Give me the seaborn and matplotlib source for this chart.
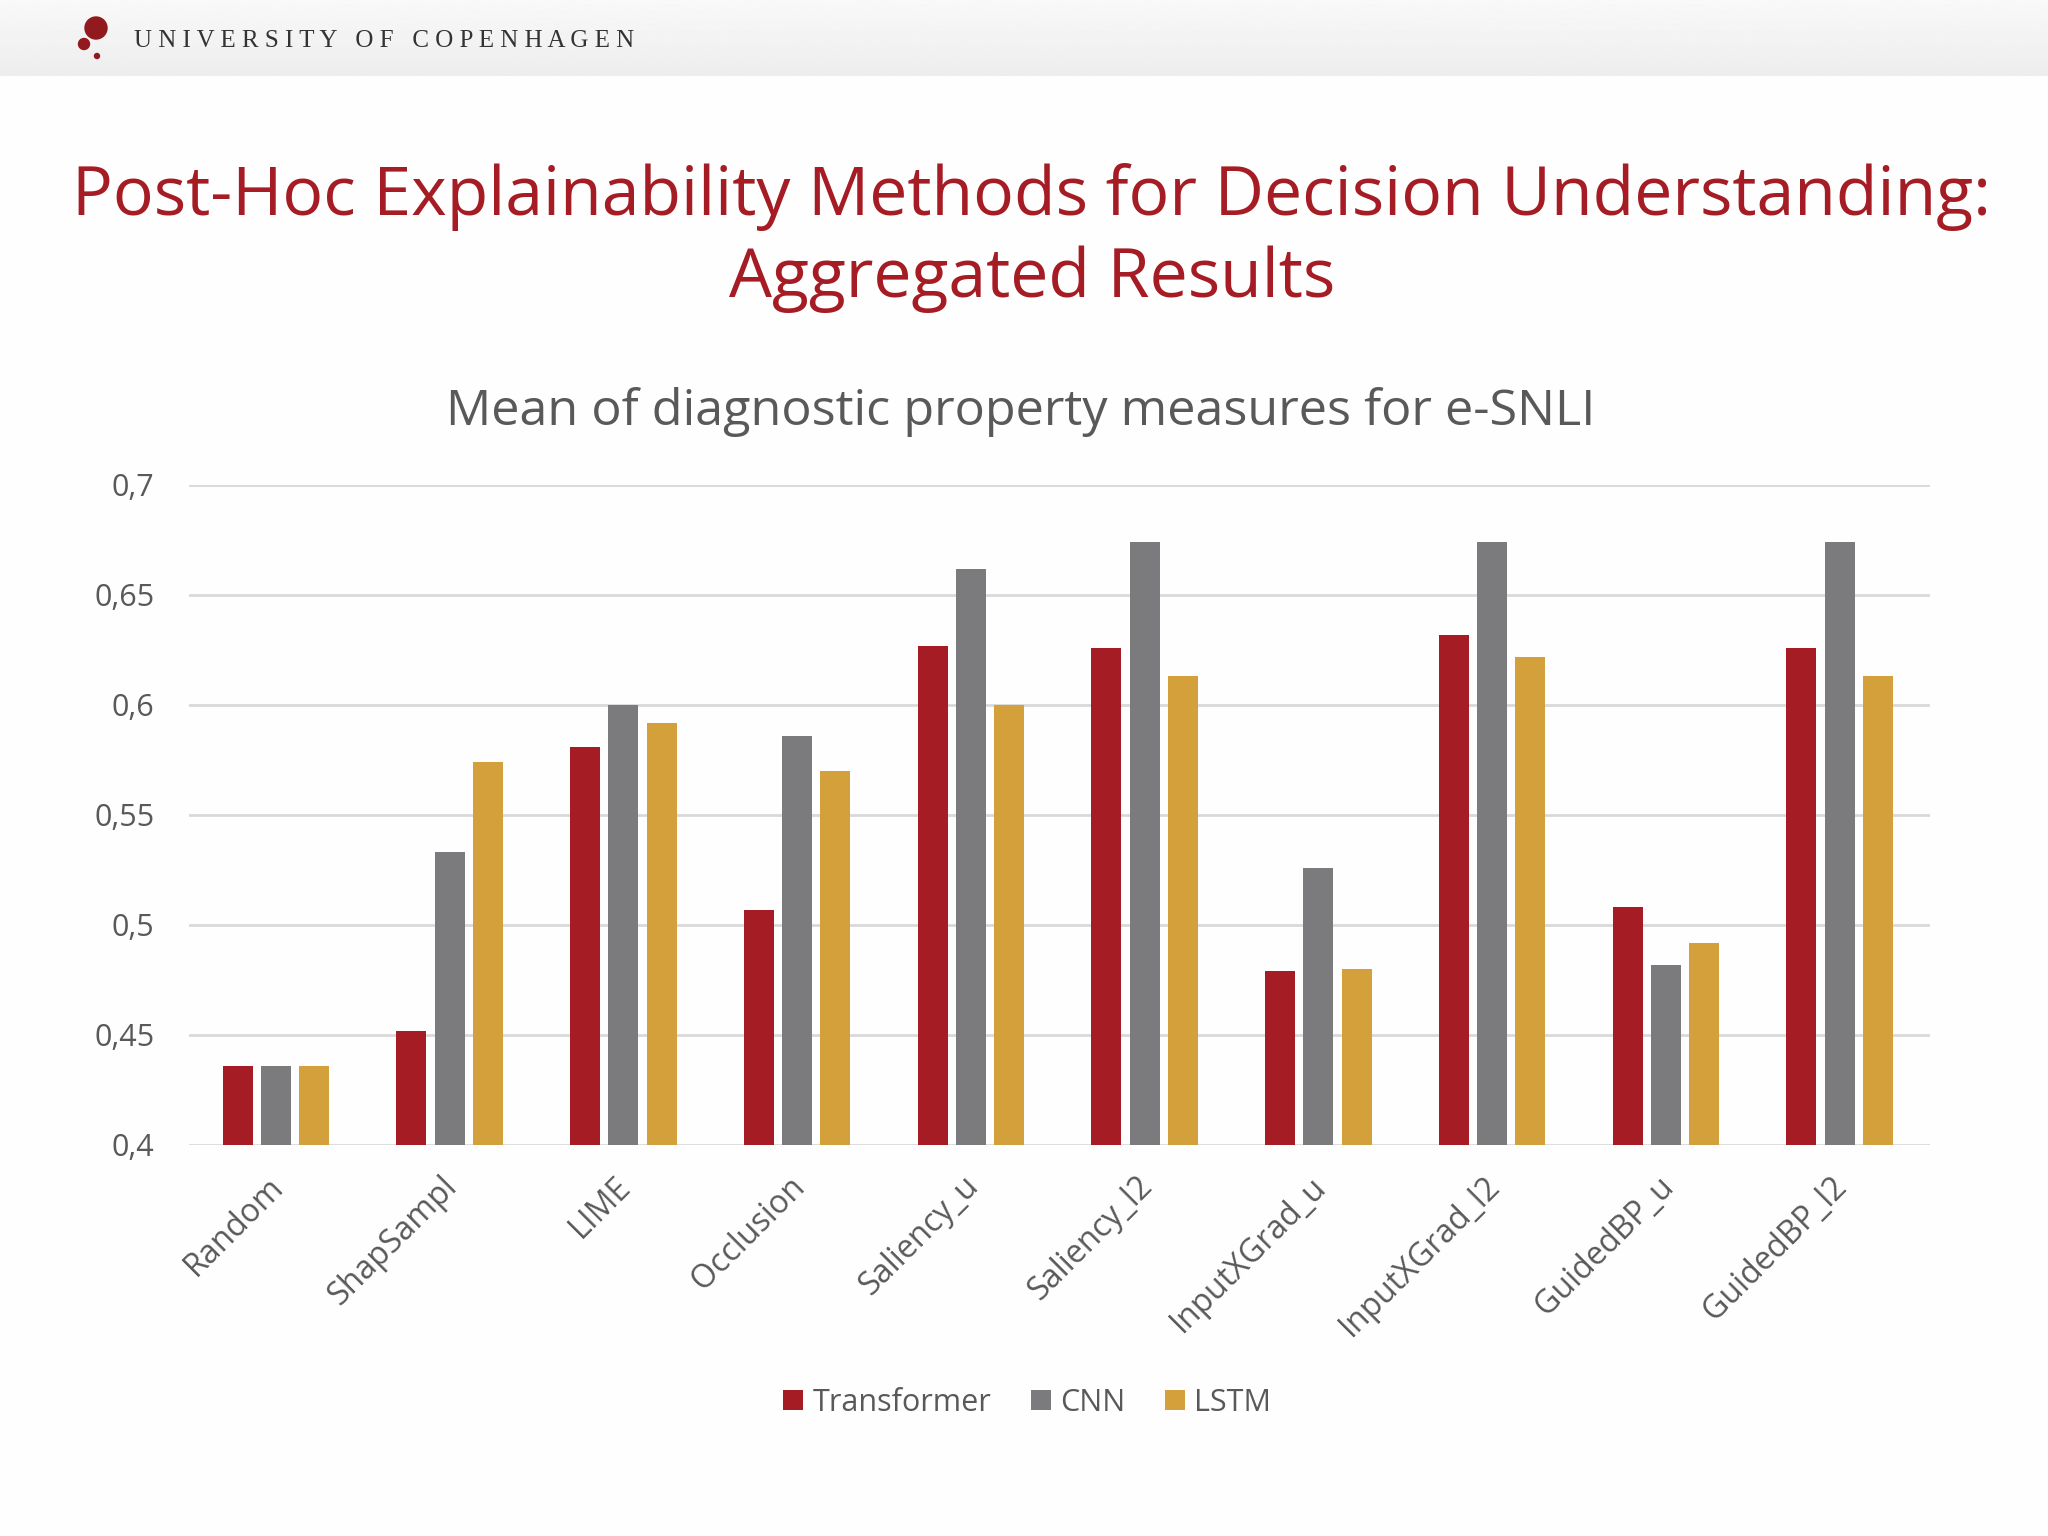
import matplotlib
matplotlib.use("Agg")
import matplotlib.pyplot as plt
import seaborn as sns
import pandas as pd
import numpy as np
from matplotlib.patches import Ellipse
from matplotlib.transforms import ScaledTranslation

# ---------------- data ----------------
methods = ["Random", "ShapSampl", "LIME", "Occlusion", "Saliency_u", "Saliency_l2",
           "InputXGrad_u", "InputXGrad_l2", "GuidedBP_u", "GuidedBP_l2"]
transformer = [0.436, 0.452, 0.581, 0.507, 0.627, 0.626, 0.479, 0.632, 0.508, 0.626]
cnn = [0.436, 0.533, 0.600, 0.586, 0.662, 0.674, 0.526, 0.674, 0.482, 0.674]
lstm = [0.436, 0.574, 0.592, 0.570, 0.600, 0.613, 0.480, 0.622, 0.492, 0.613]
models = ["Transformer", "CNN", "LSTM"]
colors = ["#a51c24", "#7b7a7c", "#d4a03b"]
yticks = [0.4, 0.45, 0.5, 0.55, 0.6, 0.65, 0.7]
ytick_labels = ["0,4", "0,45", "0,5", "0,55", "0,6", "0,65", "0,7"]

title_line1 = "Post-Hoc Explainability Methods for Decision Understanding:"
title_line2 = "Aggregated Results"
subtitle = "Mean of diagnostic property measures for e-SNLI"
header_text = "U N I V E R S I T Y   O F   C O P E N H A G E N"

df = pd.DataFrame({
    "Method": methods * 3,
    "Model": [m for m in models for _ in methods],
    "Value": transformer + cnn + lstm,
})

# ---------------- style ----------------
sns.set_style("white")
plt.rcParams["font.family"] = ["Open Sans", "DejaVu Sans"]
TXT = "#595959"
RED = "#a51c24"

W, H = 2048, 1536
fig = plt.figure(figsize=(W / 100, H / 100), dpi=100)
fig.patch.set_facecolor("#fefefe")

# header band (gradient)
hax = fig.add_axes([0, 1 - 76 / H, 1, 76 / H])
grad = np.linspace(0.975, 0.93, 64).reshape(-1, 1)
hax.imshow(np.repeat(grad, 2, axis=1), cmap="gray", vmin=0, vmax=1, aspect="auto",
           extent=[0, 1, 0, 1])
hax.set_axis_off()

# logo dots
for (cx, cy, r) in [(96, 28, 11), (84, 44, 5.5), (97, 56, 2.5)]:
    fig.add_artist(Ellipse((cx / W, 1 - cy / H), 2 * r / W, 2 * r / H,
                           transform=fig.transFigure, color="#901a1e", zorder=5))
fig.text(134 / W, 1 - 41 / H, header_text, family=["Liberation Serif", "DejaVu Serif"],
         fontsize=18, color="#333333", ha="left", va="center")

# titles
fig.text(1032 / W, 1 - 197 / H, title_line1, fontsize=49, color=RED, ha="center", va="center")
fig.text(1032 / W, 1 - 279 / H, title_line2, fontsize=49, color=RED, ha="center", va="center")
fig.text(1021 / W, 1 - 412 / H, subtitle, fontsize=36.3, color=TXT, ha="center", va="center")

# main axes
ax = fig.add_axes([189 / W, 1 - 1145 / H, (1930 - 189) / W, (1145 - 485) / H])
ax.set_facecolor("none")
sns.barplot(data=df, x="Method", y="Value", hue="Model", palette=colors, width=0.66,
            ax=ax, linewidth=0, saturation=1)

bw = 0.173
for cont in ax.containers:
    for bar in cont:
        c = bar.get_x() + bar.get_width() / 2
        bar.set_width(bw)
        bar.set_x(c - bw / 2)
        bar.set_zorder(3)

handles, labels = ax.get_legend_handles_labels()
if ax.get_legend() is not None:
    ax.get_legend().remove()

ax.set_ylim(0.4, 0.7)
ax.set_xlim(-0.5, 9.52)
ax.set_yticks(yticks)
ax.set_yticklabels(ytick_labels)
ax.set_xlabel("")
ax.set_ylabel("")
ax.grid(axis="y", color="#d9d9d9", linewidth=2, zorder=0)
ax.set_axisbelow(True)
for s in ax.spines.values():
    s.set_visible(False)
ax.tick_params(axis="both", length=0, labelsize=22, labelcolor=TXT)
ax.tick_params(axis="x", labelsize=23, pad=18)
ax.tick_params(axis="y", pad=25)
plt.setp(ax.get_xticklabels(), rotation=45, ha="right", rotation_mode="anchor")
offset = ScaledTranslation(-9 / 100, 0, fig.dpi_scale_trans)
for lab in ax.get_xticklabels():
    lab.set_transform(lab.get_transform() + offset)

leg = fig.legend(handles, labels, loc="center", bbox_to_anchor=(1027 / W, 1 - 1403 / H),
                 ncol=3, frameon=False, fontsize=22, handlelength=0.65, handleheight=0.65,
                 handletextpad=0.3, columnspacing=1.3, labelcolor=TXT)

fig.savefig("out.png", dpi=100, facecolor=fig.get_facecolor())
